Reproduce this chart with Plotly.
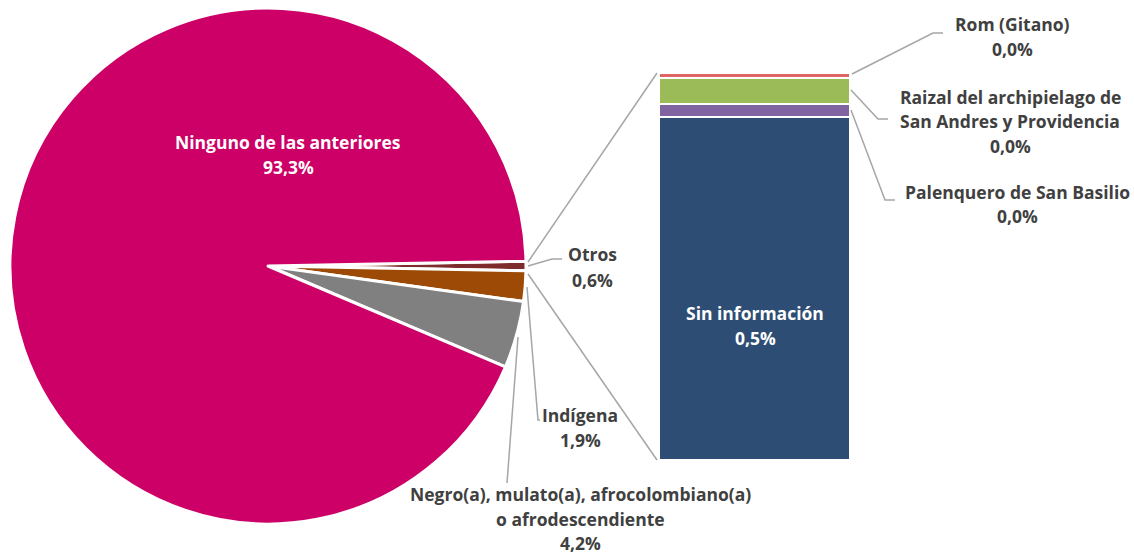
import plotly.graph_objects as go

W, H = 1134, 555

# ---- data ----
pie_labels = ["Otros", "Indígena", "Negro(a), mulato(a), afrocolombiano(a) o afrodescendiente", "Ninguno de las anteriores"]
pie_values = [0.6, 1.9, 4.2, 93.3]
pie_colors = ["#7E2B2B", "#9C4A06", "#808080", "#CC0066"]

bar_labels = ["Sin información", "Palenquero de San Basilio", "Raizal del archipielago de San Andres y Providencia", "Rom (Gitano)"]
bar_values = [0.532, 0.020, 0.040, 0.008]
bar_colors = ["#2E4D74", "#8064A2", "#9BBB59", "#E06666"]


def px(x):
    return x / W


def py(y):
    return 1 - y / H


fig = go.Figure()

fig.add_trace(go.Pie(
    labels=pie_labels, values=pie_values, sort=False, direction="clockwise",
    rotation=90 - pie_values[0] / 100 * 360 / 2,
    marker=dict(colors=pie_colors, line=dict(color="white", width=3)),
    textinfo="none", hoverinfo="label+percent", showlegend=False,
    domain=dict(x=[px(10), px(526)], y=[py(524), py(8)]),
))

for lab, val, col in zip(bar_labels, bar_values, bar_colors):
    fig.add_trace(go.Bar(
        x=[0], y=[val], name=lab, width=1,
        marker=dict(color=col, line=dict(color="white", width=2)),
        showlegend=False, hoverinfo="name+y",
    ))

total = sum(bar_values)
FONT = "Open Sans"
FS = 17.5
fig.update_layout(
    width=W, height=H, margin=dict(l=0, r=0, t=0, b=0),
    paper_bgcolor="white", plot_bgcolor="white",
    barmode="stack", bargap=0,
    xaxis=dict(domain=[px(659), px(850)], range=[-0.5, 0.5], visible=False, fixedrange=True),
    yaxis=dict(domain=[py(460), py(73)], range=[0, total], visible=False, fixedrange=True),
    font=dict(family=FONT, size=FS, color="#404040"),
)

TXT = "#404040"
annos = [
    ("<b>Ninguno de las anteriores</b>", 288, 142, "white"),
    ("<b>93,3%</b>", 288, 167, "white"),
    ("<b>Sin información</b>", 755, 313, "white"),
    ("<b>0,5%</b>", 755, 338, "white"),
    ("<b>Otros</b>", 592, 254, TXT),
    ("<b>0,6%</b>", 592, 280, TXT),
    ("<b>Indígena</b>", 580, 415, TXT),
    ("<b>1,9%</b>", 580, 440, TXT),
    ("<b>Negro(a), mulato(a), afrocolombiano(a)</b>", 580, 494, TXT),
    ("<b>o afrodescendiente</b>", 580, 519, TXT),
    ("<b>4,2%</b>", 580, 543, TXT),
    ("<b>Rom (Gitano)</b>", 1012, 24, TXT),
    ("<b>0,0%</b>", 1012, 49, TXT),
    ("<b>Raizal del archipielago de</b>", 1010, 97, TXT),
    ("<b>San Andres y Providencia</b>", 1010, 121, TXT),
    ("<b>0,0%</b>", 1010, 146, TXT),
    ("<b>Palenquero de San Basilio</b>", 1017, 192, TXT),
    ("<b>0,0%</b>", 1017, 216, TXT),
]
for text, x, y, c in annos:
    fig.add_annotation(text=text, x=px(x), y=py(y), xref="paper", yref="paper",
                       showarrow=False, xanchor="center", yanchor="middle",
                       font=dict(family=FONT, size=FS, color=c))

LC = "#A6A6A6"
lines = [
    [(528, 262), (657, 73)],
    [(528, 274), (657, 460)],
    [(528, 266), (552, 259), (562, 259)],
    [(527, 287), (538, 420), (540, 420)],
    [(518, 337), (507, 483)],
    [(852, 74), (933, 33), (943, 33)],
    [(851, 90), (878, 119), (888, 119)],
    [(851, 110), (885, 200), (895, 200)],
]
for pts in lines:
    path = "M " + " L ".join(f"{px(x)},{py(y)}" for x, y in pts)
    fig.add_shape(type="path", path=path, xref="paper", yref="paper",
                  line=dict(color=LC, width=1.5))

fig.write_html(
    "out.html",
    config={"displayModeBar": False},
    post_script="document.body.style.margin='0';document.body.style.overflow='hidden';",
)
